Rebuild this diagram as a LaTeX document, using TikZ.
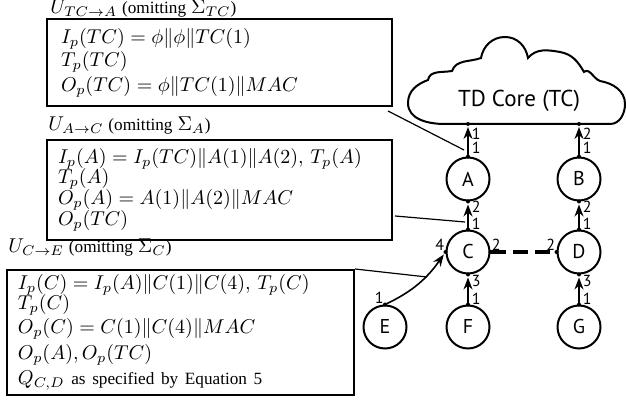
\documentclass[tikz,border=0pt]{standalone}
\usepackage[no-math]{fontspec}
\setmainfont{Liberation Serif}
\newfontfamily\labelfont{PT Sans}
\usetikzlibrary{arrows.meta}
\tikzset{
  station/.style={circle, draw, line width=1pt, minimum size=21.5pt, inner sep=0pt,
    font=\labelfont\fontsize{10}{11}\selectfont},
  infobox/.style={draw, line width=1pt, anchor=north west, align=left, inner ysep=0pt,
    font=\fontsize{10}{12}\selectfont},
  boxtitle/.style={anchor=base west, inner sep=0pt, font=\fontsize{10}{12}\selectfont},
  uplink/.style={line width=0.8pt, -{Stealth[length=6pt,width=4.5pt]}, shorten >=1.5pt},
  portnum/.style={font=\labelfont\fontsize{8}{9}\selectfont, inner sep=0.5pt},
  callout/.style={line width=0.6pt},
}
\newcommand{\mline}[1]{\mbox{$#1$}}
\newcommand{\smalltext}[1]{{\fontsize{8.6}{10}\selectfont #1}}

\begin{document}
\begin{tikzpicture}[x=0.5pt,y=-0.5pt]
\useasboundingbox (0,0) rectangle (626,410);

% TD core cloud
\draw[line width=1pt] (445,124) to[out=180,in=-90] (408,103)
  to[out=90,in=200] (428,80) to[out=80,in=190] (452,71)
  to[out=70,in=200] (481,58) to[out=80,in=180] (505,37)
  to[out=0,in=100] (528,58) to[out=50,in=170] (560,52)
  to[out=-10,in=120] (584,72) to[out=40,in=160] (600,81)
  to[out=-10,in=90] (625,104) to[out=-90,in=0] (610,124) -- cycle;
\node[font=\labelfont\fontsize{11.5}{12}\selectfont] (core) at (519,101) {TD Core (TC)};
\coordinate (coreA) at (468,124);
\coordinate (coreB) at (579,124);

% stations
\node[station] (A) at (468,179) {A};
\node[station] (B) at (579,179) {B};
\node[station] (C) at (468,252) {C};
\node[station] (D) at (579,252) {D};
\node[station] (E) at (385,327) {E};
\node[station] (F) at (468,327) {F};
\node[station] (G) at (579,327) {G};

% links towards the core
\draw[uplink] (A.north) -- node[portnum, pos=0.27, right, xshift=1pt]{1}
  node[portnum, pos=0.7, right, xshift=1pt]{1} (coreA);
\draw[uplink] (B.north) -- node[portnum, pos=0.27, right, xshift=1pt]{1}
  node[portnum, pos=0.7, right, xshift=1pt]{2} (coreB);
\draw[uplink] (C.north) -- node[portnum, pos=0.2, right, xshift=1pt]{1}
  node[portnum, pos=0.8, right, xshift=1pt]{2} (A.south);
\draw[uplink] (D.north) -- node[portnum, pos=0.2, right, xshift=1pt]{1}
  node[portnum, pos=0.8, right, xshift=1pt]{2} (B.south);
\draw[uplink] (F.north) -- node[portnum, pos=0.2, right, xshift=1pt]{1}
  node[portnum, pos=0.8, right, xshift=1pt]{3} (C.south);
\draw[uplink] (G.north) -- node[portnum, pos=0.2, right, xshift=1pt]{1}
  node[portnum, pos=0.8, right, xshift=1pt]{3} (D.south);
\draw[uplink] (E.north) to[out=25,in=235] (C.west);
\node[portnum, above left] (pE) at (E.north) {1};
\node[portnum, above left] (pC) at (C.west) {4};

% peer link
\draw[line width=1.8pt, dash pattern=on 7.5pt off 3.5pt] (C.east) -- (D.west);
\node[portnum, above right] (pCD) at (C.east) {2};
\node[portnum, above left] (pDC) at (D.west) {2};

% port dots
\foreach \p in {A.north, A.south, B.north, B.south, C.north, C.south, C.east, C.west,
  D.north, D.south, D.west, E.north, F.north, G.north, coreA, coreB}
  \fill (\p) circle (1pt);

% update boxes
\node[boxtitle] (tTC) at (50,14) {$U_{TC\rightarrow A}$ \smalltext{(omitting} $\Sigma_{TC}$\smalltext{)}};
\node[infobox, minimum height=43.5pt, text width=158.5pt, inner xsep=7pt] (boxTC) at (46,18)
  {\mline{I_p(TC) = \phi\|\phi\|TC(1)}\\[-0.5pt]
   \mline{T_p(TC)}\\[0.5pt]
   \mline{O_p(TC) = \phi\|TC(1)\|MAC}};

\node[boxtitle] (tA) at (48,131) {$U_{A\rightarrow C}$ \smalltext{(omitting} $\Sigma_{A}$\smalltext{)}};
\node[infobox, minimum height=50pt, text width=161.5pt, inner xsep=5.5pt] (boxA) at (46,139)
  {\mline{I_p(A) = I_p(TC)\|A(1)\|A(2),\,T_p(A)}\\[-2pt]
   \mline{T_p(A)}\\[-1.5pt]
   \mline{O_p(A) = A(1)\|A(2)\|MAC}\\[-1.5pt]
   \mline{O_p(TC)}};

\node[boxtitle] (tC) at (8,253) {$U_{C\rightarrow E}$ \smalltext{(omitting} $\Sigma_{C}$\smalltext{)}};
\node[infobox, minimum height=62.5pt, text width=162.5pt, inner xsep=5.5pt] (boxC) at (6,269)
  {\mline{I_p(C) = I_p(A)\|C(1)\|C(4),\,T_p(C)}\\[-2pt]
   \mline{T_p(C)}\\[0pt]
   \mline{O_p(C) = C(1)\|C(4)\|MAC}\\[1pt]
   \mline{O_p(A), O_p(TC)}\\[0.5pt]
   \mbox{$Q_{C,D}$ \smalltext{as specified by Equation 5}}};

% callout lines
\coordinate (atA) at (464,150);
\coordinate (atC) at (465,222);
\coordinate (atE) at (427,277);
\draw[callout] ([xshift=-2.5pt,yshift=-2pt]boxTC.south east) -- (atA);
\draw[callout] ([xshift=1pt,yshift=12.5pt]boxA.south east) -- (atC);
\draw[callout] (boxC.north east) -- (atE);
\end{tikzpicture}
\end{document}
